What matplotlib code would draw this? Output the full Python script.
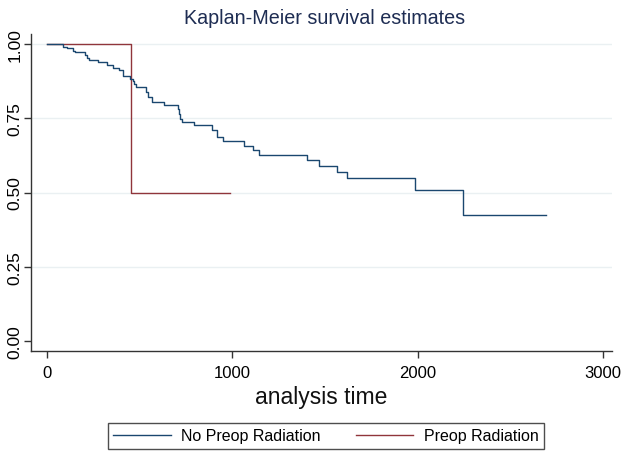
import matplotlib
matplotlib.use("Agg")
import matplotlib.pyplot as plt
from matplotlib.lines import Line2D

plt.rcParams['font.family'] = ['Liberation Sans', 'DejaVu Sans']

# Kaplan-Meier step data (event time, survival after event)
no_preop_time = [0, 88, 106, 142, 151, 205, 214, 228, 277, 322, 355, 389, 408, 412,
                 448, 464, 472, 481, 535, 545, 568, 631, 709, 712, 720, 730, 795,
                 889, 919, 948, 1065, 1110, 1142, 1401, 1469, 1563, 1617, 1986, 2243, 2693]
no_preop_surv = [1.0, 0.991, 0.986, 0.978, 0.973, 0.963, 0.952, 0.946, 0.938, 0.929,
                 0.920, 0.912, 0.901, 0.892, 0.884, 0.876, 0.867, 0.857, 0.838, 0.823,
                 0.806, 0.796, 0.781, 0.764, 0.749, 0.737, 0.729, 0.711, 0.686, 0.672,
                 0.658, 0.642, 0.626, 0.609, 0.589, 0.568, 0.548, 0.508, 0.424, 0.424]
preop_time = [0, 453, 987]
preop_surv = [1.0, 0.5, 0.5]

xticks = [0, 1000, 2000, 3000]
yticks = [0.0, 0.25, 0.5, 0.75, 1.0]
series_labels = ["No Preop Radiation", "Preop Radiation"]
title = "Kaplan-Meier survival estimates"
xlabel = "analysis time"

blue = "#1a476f"
red = "#90353b"

fig = plt.figure(figsize=(6.28, 4.56), dpi=100)
ax = fig.add_axes([31/628, (456-352)/456, (612-31)/628, (352-35)/456])

for y in [0.25, 0.5, 0.75, 1.0]:
    ax.axhline(y, color="#eaf0f2", lw=1.0, zorder=0)

ax.step(no_preop_time, no_preop_surv, where="post", color=blue, lw=1.0, zorder=3)
ax.step(preop_time, preop_surv, where="post", color=red, lw=1.0, zorder=2)

ax.set_xlim(-86, 3049)
ax.set_ylim(-0.034, 1.034)
ax.set_xticks(xticks)
ax.set_xticklabels([str(t) for t in xticks], fontsize=12)
ax.set_yticks(yticks)
ax.set_yticklabels([f"{v:.2f}" for v in yticks], fontsize=12.5, rotation=90, va="center")
ax.tick_params(axis="both", length=5, width=1, color="#333333")
ax.tick_params(axis="x", pad=5)
ax.tick_params(axis="y", pad=1)
for s in ["top", "right"]:
    ax.spines[s].set_visible(False)
for s in ["left", "bottom"]:
    ax.spines[s].set_color("#333333")
    ax.spines[s].set_linewidth(1.0)

ax.set_xlabel(xlabel, fontsize=16.5, labelpad=4, color="#111111")
fig.text(325/628, 1 - 18/456, title, fontsize=14.2, color="#1e2d53", ha="center", va="center")

handles = [Line2D([], [], color=blue, lw=1.0), Line2D([], [], color=red, lw=1.0)]
leg = fig.legend(handles, series_labels, loc="center", bbox_to_anchor=(326/628, 1 - 437/456),
                 ncol=2, fontsize=11.5, frameon=True, fancybox=False, handlelength=3.6,
                 columnspacing=2.2, borderpad=0.35, handletextpad=0.65)
leg.get_frame().set_edgecolor("#222222")
leg.get_frame().set_linewidth(1.0)

fig.savefig("out.png", dpi=100)
